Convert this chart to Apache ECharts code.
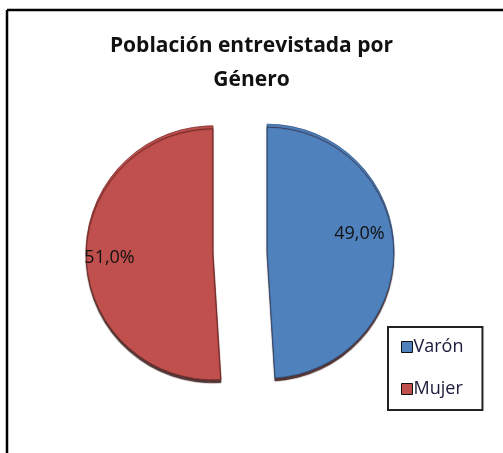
<!DOCTYPE html>
<html>
<head>
<meta charset="utf-8">
<script src="https://cdn.jsdelivr.net/npm/echarts@6/dist/echarts.min.js"></script>
<style>
html,body{margin:0;padding:0;background:#fff;}
#chart{width:503px;height:453px;}
</style>
</head>
<body>
<div id="chart"></div>
<script>
const titleText = 'Población entrevistada por\nGénero';
const categories = ['Varón', 'Mujer'];
const values = [49.0, 51.0];
const colors = ['#4F81BD', '#C0504D'];
const borderColors = ['#2f5583', '#7a2d2b'];
const labelShift = [[26, -15], [-37, 3]];

const chart = echarts.init(document.getElementById('chart'), null, {renderer: 'canvas'});
const font = '"Open Sans", Lato, sans-serif';

chart.setOption({
  animation: false,
  backgroundColor: '#fff',
  title: {
    text: titleText,
    left: 'center',
    top: 29,
    padding: [0, 0, 0, 5],
    textStyle: {
      fontFamily: font,
      fontSize: 21,
      fontWeight: 'bold',
      color: '#111',
      lineHeight: 34
    }
  },
  legend: {
    orient: 'vertical',
    left: 388,
    top: 327,
    data: categories,
    icon: 'rect',
    itemWidth: 11,
    itemHeight: 11,
    itemGap: 20,
    padding: [9, 19, 10, 13],
    borderColor: '#222',
    borderWidth: 2,
    selectedMode: false,
    itemStyle: {borderColor: '#111', borderWidth: 1},
    textStyle: {
      fontFamily: font,
      fontSize: 18,
      color: '#1a1a3a',
      lineHeight: 22,
      padding: [0, 0, 0, -4]
    }
  },
  graphic: [
    {type: 'line', shape: {x1: 7, y1: 10, x2: 503, y2: 10}, style: {stroke: '#000', lineWidth: 2.5}},
    {type: 'line', shape: {x1: 7, y1: 10, x2: 7, y2: 453}, style: {stroke: '#000', lineWidth: 2.5}}
  ],
  series: [{
    type: 'pie',
    center: [240, 252],
    radius: [0, 127],
    startAngle: 90,
    clockwise: true,
    selectedMode: 'multiple',
    selectedOffset: 27,
    emphasis: {disabled: true},
    silent: true,
    label: {
      show: true,
      position: 'inside',
      fontFamily: font,
      fontSize: 18,
      color: '#111',
      formatter: p => p.value.toFixed(1).replace('.', ',') + '%'
    },
    labelLayout: p => ({dx: labelShift[p.dataIndex][0], dy: labelShift[p.dataIndex][1]}),
    labelLine: {show: false},
    data: categories.map((c, i) => ({
      name: c,
      value: values[i],
      selected: true,
      itemStyle: {
        color: colors[i],
        borderColor: borderColors[i],
        borderWidth: 0.8,
        shadowColor: 'rgba(40,0,0,0.8)',
        shadowOffsetY: 3,
        shadowOffsetX: 0,
        shadowBlur: 1
      }
    }))
  }]
});
</script>
</body>
</html>
